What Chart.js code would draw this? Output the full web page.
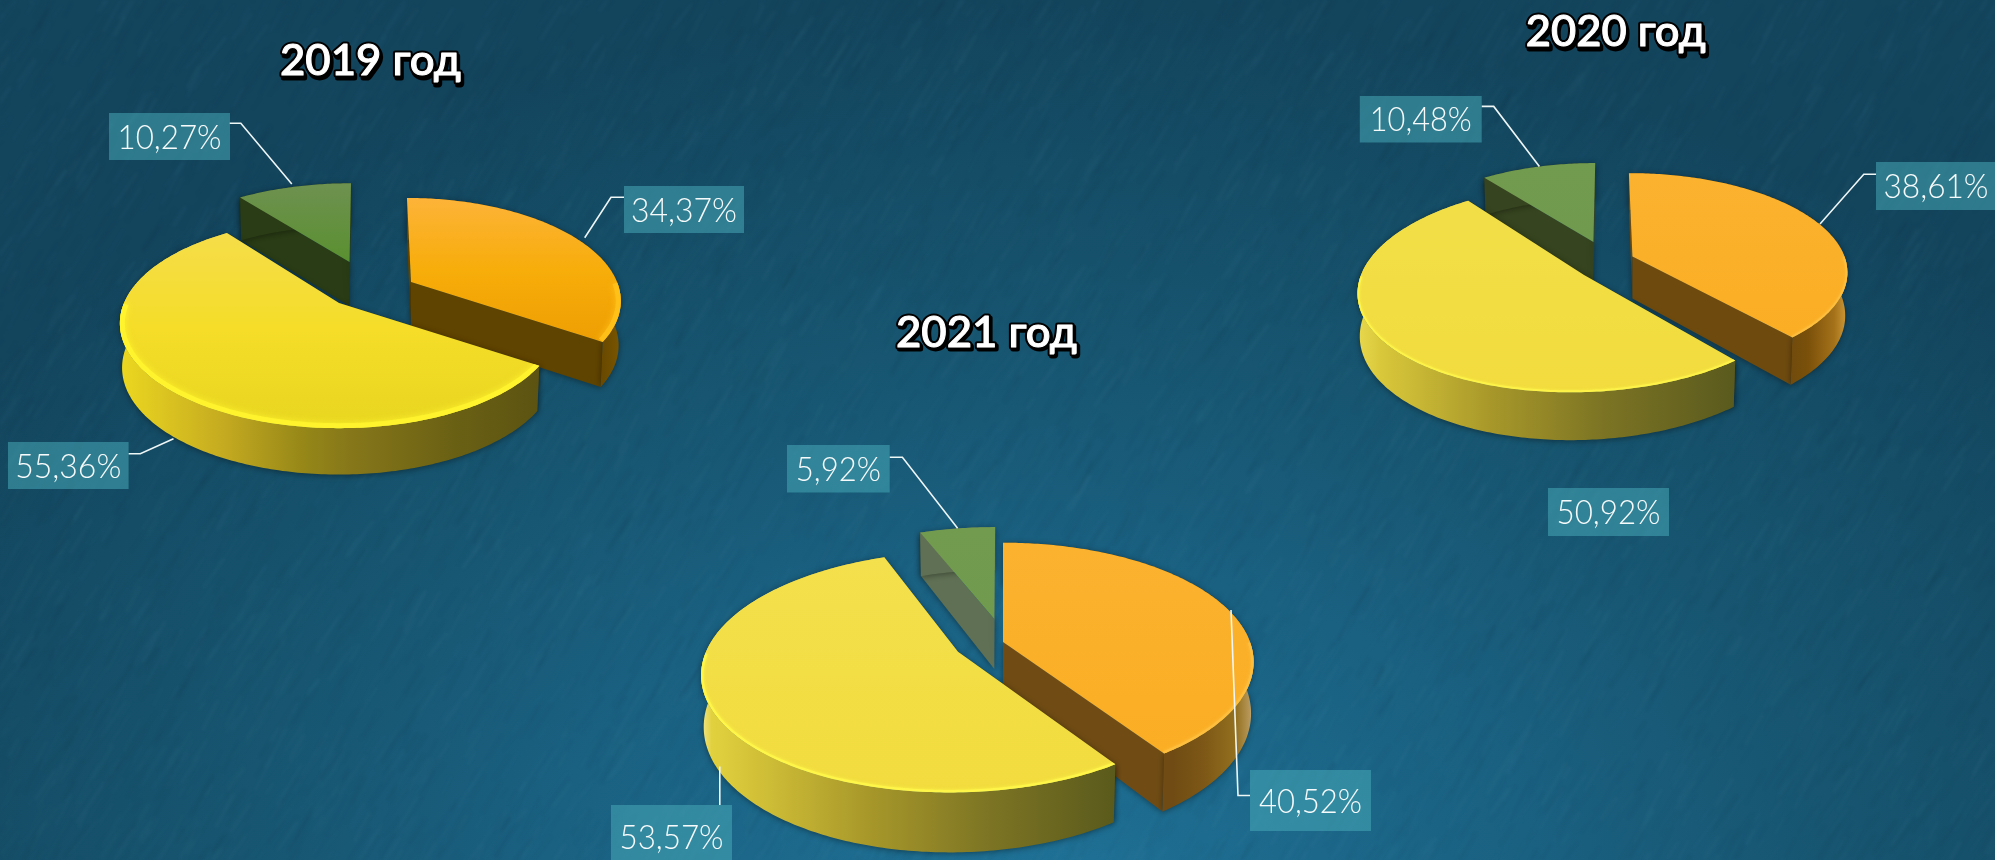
<!DOCTYPE html>
<html lang="ru">
<head>
<meta charset="utf-8">
<title>2019–2021</title>
<script src="https://cdn.jsdelivr.net/npm/chart.js@4"></script>
<style>
html,body{margin:0;padding:0;width:1995px;height:860px;overflow:hidden;background:#14485f}
canvas{position:absolute;left:0;top:0}
#bg{background:radial-gradient(ellipse 1300px 900px at 52% 105%,#1f7297 0%,#1b6486 30%,#175570 62%,#13455d 100%)}
</style>
</head>
<body>
<canvas id="bg" width="1995" height="860"></canvas>
<canvas id="c2019" width="1995" height="860"></canvas>
<canvas id="c2020" width="1995" height="860"></canvas>
<canvas id="c2021" width="1995" height="860"></canvas>
<script>
// ---- data ----
const categories = ['A', 'B', 'C'];
const titles = ['2019 год', '2020 год', '2021 год'];
const values2019 = [34.37, 55.36, 10.27];
const values2020 = [38.61, 50.92, 10.48];
const values2021 = [40.52, 53.57, 5.92];

// ---- presentation ----
const baseColors = ['#fbb12b', '#f2dd40', '#71994f'];
// order of painting: back to front (green, orange, yellow)
const paintOrder = [2, 0, 1];

const pies = [
  { id: 'c2019', title: titles[0], values: values2019,
    titleBox: { cx: 370.5, base: 75, w: 181 },
    H: 44, hExp: 0.25, rimW: 5, rimAlpha: 0.85,
    views: [
      { ax: 411, ay: 282, A: 206, B: 98, k: 4.7, p: 0.166 },
      { ax: 339, ay: 303, A: 215, B: 101, k: 0, p: 0.193 },
      { ax: 349.5, ay: 262, A: 205, B: 90, k: -1.7, p: 0.143 } ],
    tops: [['#fdb338', '#f7ad0a', '#ee9e03'], ['#f5dd4a', '#f5dd28', '#e8d620'], ['#6e9150', '#5a9030']],
    walls: [[[0, '#604300'], [0.72, '#604300'], [0.92, '#6a4a00'], [1, '#7a5600']],
            [[0, '#ecd820'], [0.25, '#c4aa20'], [0.43, '#978818'], [0.55, '#86771a'], [0.8, '#6a6014'], [1, '#5c5312']],
            [[0, '#293c15'], [1, '#293c15']]],
    cuts: ['#5f4300', '#5c5312', '#293c15'],
    rims: ['#ffc21a', '#fff52e', '#6e9150'],
    labels: [
      { box: [624, 186, 744, 233], w: 106, line: [[624, 197.3], [611, 197.3], [584.7, 237.7]] },
      { box: [8, 442, 128.6, 489], w: 106, line: [[128.6, 453.7], [140.3, 453.7], [173.5, 438.7]] },
      { box: [109, 113, 230, 160], w: 104, line: [[229.6, 123.3], [240.8, 123.3], [291.8, 184]] } ] },
  { id: 'c2020', title: titles[1], values: values2020,
    titleBox: { cx: 1615.8, base: 46, w: 180 },
    H: 42, hExp: 1, rimW: 2, rimAlpha: 0.7,
    views: [
      { ax: 1632.4, ay: 256.4, A: 212, B: 95.5, k: 4, p: 0.147 },
      { ax: 1584, ay: 275, A: 223, B: 103, k: -12, p: 0.122 },
      { ax: 1593.4, ay: 242, A: 203.7, B: 91.7, k: -2.1, p: 0.162 } ],
    tops: [['#fbb22f', '#fbae24'], ['#f2df48', '#f2dc3e'], ['#729b50', '#709a4e']],
    walls: [[[0, '#6e4a0e'], [0.72, '#6e4a0e'], [0.82, '#7a500a'], [0.94, '#a5721a'], [1, '#cf9a38']],
            [[0, '#e8d84e'], [0.06, '#d9c83a'], [0.35, '#a8982a'], [0.65, '#7c7424'], [1, '#5a5a1e']],
            [[0, '#36441f'], [1, '#36441f']]],
    cuts: ['#6e4a0e', '#5a5a1e', '#36441f'],
    rims: ['#ffc040', '#fff64a', '#729b50'],
    labels: [
      { box: [1876, 162, 1996, 210], w: 105, line: [[1876, 174.3], [1863.8, 174.3], [1820, 224]] },
      { box: [1548, 488, 1669, 536], w: 104, line: null },
      { box: [1359.8, 96, 1481.7, 142.5], w: 102, line: [[1481.7, 106.4], [1493.7, 106.4], [1539.4, 166.4]] } ] },
  { id: 'c2021', title: titles[2], values: values2021,
    titleBox: { cx: 986.5, base: 346.5, w: 181 },
    H: 50, hExp: 1, rimW: 2.5, rimAlpha: 0.75,
    views: [
      { ax: 1003, ay: 642, A: 247, B: 116, k: 0, p: 0.168 },
      { ax: 958, ay: 651.8, A: 252, B: 117.2, k: -7, p: 0.1665 },
      { ax: 994.3, ay: 619, A: 237, B: 106.6, k: -1, p: 0.16 } ],
    tops: [['#fbb22f', '#fbae24'], ['#f3e04c', '#f2dc3e'], ['#729b50', '#709a4e']],
    walls: [[[0, '#704c14'], [0.68, '#704c14'], [0.8, '#7c5716'], [0.93, '#93701f'], [0.985, '#b8985a'], [1, '#d8c090']],
            [[0, '#efe690'], [0.025, '#e2d13e'], [0.12, '#d4c338'], [0.4, '#a8982a'], [0.7, '#7c7424'], [1, '#5a5a1c']],
            [[0, '#5f7054'], [1, '#5f7054']]],
    cuts: ['#704c14', '#5a5a1c', '#5f7054'],
    rims: ['#ffc040', '#fff84a', '#729b50'],
    labels: [
      { box: [1250, 770, 1371, 831], w: 103, line: [[1250, 795.5], [1238, 795.5], [1231, 610]] },
      { box: [611, 805, 732, 869], w: 104, line: [[719.8, 805], [719.8, 766.4]] },
      { box: [787, 445, 889.7, 492.5], w: 85, line: [[889.7, 457.3], [902.4, 457.3], [957.6, 528.2]] } ] }
];

// ---- background texture: fine diagonal rain-like streaks (fixed sequence) ----
(function paintTexture() {
  const off = document.createElement('canvas');
  off.width = 1995; off.height = 860;
  const o = off.getContext('2d');
  let s = 48271;
  const next = () => (s = (s * 16807) % 2147483647) / 2147483647;
  o.lineCap = 'round';
  for (let i = 0; i < 9000; i++) {
    const x = next() * 2100 - 50, y = next() * 960 - 50;
    const len = 10 + next() * 36;
    const ang = (52 + next() * 12) * Math.PI / 180;
    const light = next() > 0.5;
    o.strokeStyle = light ? `rgba(120,190,210,${0.012 + next() * 0.03})` : `rgba(5,30,50,${0.015 + next() * 0.035})`;
    o.lineWidth = 1.5 + next() * 3;
    o.beginPath();
    o.moveTo(x, y);
    o.lineTo(x + Math.cos(ang) * len, y - Math.sin(ang) * len);
    o.stroke();
  }
  const g = document.getElementById('bg').getContext('2d');
  g.filter = 'blur(1.5px)';
  g.drawImage(off, 0, 0);
})();

// ---- perspective projection of the pie plane ----
function projector(el, v, H, hExp) {
  return function (x, y, low) {
    const X = (x - el.x) / el.outerRadius, Y = (y - el.y) / el.outerRadius;
    const w = 1 / (1 - v.p * Y);
    let sx = (v.A * X + v.k * Y) * w, sy = v.B * Y * w;
    if (low) { sx *= 0.99; sy += H * Math.pow(w, hExp); }
    return [v.ax + sx, v.ay + sy];
  };
}

// A drawing context handed to the library's arc element: the element's own path
// commands go through the projection.
function projectedContext(real, pr, fillOverride) {
  const lineTo = (x, y) => { const p = pr(x, y); real.lineTo(p[0], p[1]); };
  const handlers = {
    translate() {}, lineTo,
    moveTo(x, y) { const p = pr(x, y); real.moveTo(p[0], p[1]); },
    arc(cx, cy, r, a0, a1, ccw) {
      if (ccw) { while (a1 > a0) a1 -= Math.PI * 2; } else { while (a1 < a0) a1 += Math.PI * 2; }
      const n = Math.max(2, Math.ceil(Math.abs(a1 - a0) / 0.015));
      for (let i = 0; i <= n; i++) {
        const a = a0 + (a1 - a0) * i / n;
        lineTo(cx + Math.cos(a) * r, cy + Math.sin(a) * r);
      }
    },
    fill() { real.fillStyle = fillOverride; real.fill(); }
  };
  return new Proxy({}, {
    get(t, k) {
      if (k in handlers) return handlers[k];
      const v = real[k];
      return typeof v === 'function' ? v.bind(real) : v;
    },
    set(t, k, v) { real[k] = v; return true; }
  });
}

function linear(ctx, x0, y0, x1, y1, stops) {
  const g = ctx.createLinearGradient(x0, y0, x1, y1);
  stops.forEach((c, i) => {
    if (Array.isArray(c)) g.addColorStop(c[0], c[1]);
    else g.addColorStop(stops.length > 1 ? i / (stops.length - 1) : 0, c);
  });
  return g;
}

function drawFittedText(ctx, text, font, cx, base, width, paint) {
  ctx.save();
  ctx.font = font;
  ctx.textAlign = 'center';
  ctx.textBaseline = 'alphabetic';
  const m = ctx.measureText(text).width;
  ctx.translate(cx, base);
  ctx.scale(width / m, 1);
  paint(text);
  ctx.restore();
}

function pie3dPlugin(cfg) {
  return {
    id: 'pie3d',
    beforeDatasetsDraw(chart) {
      const ctx = chart.ctx;
      const els = chart.getDatasetMeta(0).data;
      paintOrder.forEach(i => {
        const el = els[i];
        const pr = projector(el, cfg.views[i], cfg.H, cfg.hExp);
        const pt = (a, low) => pr(el.x + Math.cos(a) * el.outerRadius, el.y + Math.sin(a) * el.outerRadius, low);
        const a0 = el.startAngle, a1 = el.endAngle, n = Math.ceil((a1 - a0) / 0.015);
        const angles = [];
        for (let j = 0; j <= n; j++) angles.push(a0 + (a1 - a0) * j / n);
        const top = angles.map(a => pt(a, false)), low = angles.map(a => pt(a, true));
        const apexT = pr(el.x, el.y, false), apexL = pr(el.x, el.y, true);
        const xs = top.map(p => p[0]).concat(apexT[0]);
        const ys = top.map(p => p[1]).concat(apexT[1]);
        const xMin = Math.min(...xs), xMax = Math.max(...xs), yMin = Math.min(...ys), yMax = Math.max(...ys);

        ctx.save();
        ctx.shadowColor = 'rgba(0,0,0,0.4)';
        ctx.shadowBlur = 6;
        ctx.shadowOffsetY = 1;
        // cut faces
        ctx.fillStyle = cfg.cuts[i];
        [[top[0], low[0]], [top[n], low[n]]].forEach(e => {
          ctx.beginPath();
          ctx.moveTo(apexT[0], apexT[1]);
          ctx.lineTo(e[0][0], e[0][1]);
          ctx.lineTo(e[1][0], e[1][1]);
          ctx.lineTo(apexL[0], apexL[1]);
          ctx.closePath();
          ctx.fill();
        });
        // outer wall
        ctx.fillStyle = linear(ctx, xMin, 0, xMax, 0, cfg.walls[i]);
        ctx.beginPath();
        top.forEach((p, j) => j ? ctx.lineTo(p[0], p[1]) : ctx.moveTo(p[0], p[1]));
        for (let j = n; j >= 0; j--) ctx.lineTo(low[j][0], low[j][1]);
        ctx.closePath();
        ctx.fill();
        ctx.restore();

        // top face: the library's own arc element, projected
        const fill = linear(ctx, 0, yMin, 0, yMax, cfg.tops[i]);
        el.draw(projectedContext(ctx, pr, fill));

        // bevelled rim on the part of the edge facing the viewer
        ctx.save();
        ctx.beginPath();
        top.forEach((p, j) => j ? ctx.lineTo(p[0], p[1]) : ctx.moveTo(p[0], p[1]));
        ctx.lineTo(apexT[0], apexT[1]);
        ctx.closePath();
        ctx.clip();
        ctx.globalAlpha = cfg.rimAlpha;
        ctx.strokeStyle = cfg.rims[i];
        ctx.lineWidth = cfg.rimW * 2;
        ctx.shadowColor = cfg.rims[i];
        ctx.shadowBlur = cfg.rimW * 1.5;
        ctx.lineCap = 'butt';
        ctx.beginPath();
        let on = false;
        angles.forEach((a, j) => {
          if (Math.sin(a) > 0.0) {
            on ? ctx.lineTo(top[j][0], top[j][1]) : ctx.moveTo(top[j][0], top[j][1]);
            on = true;
          } else on = false;
        });
        ctx.stroke();
        ctx.restore();
      });

      // leader lines and value labels
      cfg.labels.forEach((l, i) => {
        if (l.line) {
          ctx.save();
          ctx.strokeStyle = '#eef6f6';
          ctx.lineWidth = 1.6;
          ctx.beginPath();
          l.line.forEach((p, j) => j ? ctx.lineTo(p[0], p[1]) : ctx.moveTo(p[0], p[1]));
          ctx.stroke();
          ctx.restore();
        }
        const [x0, y0, x1, y1] = l.box;
        ctx.fillStyle = 'rgba(72,172,186,0.52)';
        ctx.fillRect(x0, y0, x1 - x0, y1 - y0);
        const text = cfg.values[i].toFixed(2).replace('.', ',') + '%';
        drawFittedText(ctx, text, '300 34px Lato, "Open Sans", sans-serif', (x0 + x1) / 2, (y0 + y1) / 2 + 12, l.w, t => {
          ctx.fillStyle = '#f8fbfb';
          ctx.fillText(t, 0, 0);
        });
      });

      // title
      const tb = cfg.titleBox;
      drawFittedText(ctx, cfg.title, '500 42px Lato, "DejaVu Sans", sans-serif', tb.cx, tb.base, tb.w, t => {
        ctx.lineJoin = 'round';
        ctx.strokeStyle = '#000';
        ctx.lineWidth = 5;
        ctx.strokeText(t, 1.5, 2.5);
        ctx.strokeText(t, 0, 0);
        ctx.fillStyle = '#fff';
        ctx.strokeStyle = '#fff';
        ctx.lineWidth = 1;
        ctx.strokeText(t, 0, 0);
        ctx.fillText(t, 0, 0);
      });
      return false;
    }
  };
}

Chart.defaults.animation = false;
pies.forEach(cfg => {
  new Chart(document.getElementById(cfg.id), {
    type: 'pie',
    data: {
      labels: categories,
      datasets: [{ data: cfg.values, backgroundColor: baseColors, borderWidth: 0 }]
    },
    options: {
      responsive: false,
      animation: false,
      layout: { padding: 0 },
      events: [],
      plugins: { legend: { display: false }, tooltip: { enabled: false }, title: { display: false } }
    },
    plugins: [pie3dPlugin(cfg)]
  });
});
</script>
</body>
</html>
